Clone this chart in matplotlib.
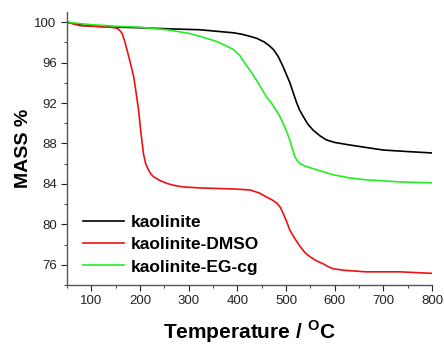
import matplotlib
matplotlib.use("Agg")
import matplotlib.pyplot as plt
from matplotlib.ticker import MultipleLocator

plt.rcParams['font.family'] = ['Liberation Sans', 'DejaVu Sans']
plt.rcParams['mathtext.fontset'] = 'custom'
plt.rcParams['mathtext.rm'] = 'Liberation Sans'
plt.rcParams['mathtext.bf'] = 'Liberation Sans:bold'

# TGA curves (temperature in C, mass in %)
kaol_t = [50, 80, 118, 160, 200, 255, 323, 392, 410, 426, 440, 455, 465, 474,
          484, 494, 501, 508, 515, 522, 528, 535, 545, 556, 570, 583, 600, 631,
          665, 700, 750, 800]
kaol_m = [100.0, 99.7, 99.57, 99.5, 99.45, 99.35, 99.25, 98.95, 98.8, 98.6, 98.4,
          98.05, 97.7, 97.3, 96.6, 95.6, 94.8, 94.0, 93.0, 92.0, 91.3, 90.7, 89.9,
          89.3, 88.75, 88.35, 88.1, 87.85, 87.6, 87.35, 87.2, 87.06]

dmso_t = [50, 77, 118, 140, 153, 158, 163, 168, 173, 180, 187, 192, 197, 202,
          207, 211, 216, 222, 228, 240, 255, 270, 289, 323, 392, 426, 445, 460,
          472, 481, 488, 494, 501, 508, 518, 529, 539, 549, 562, 576, 587, 597,
          620, 665, 734, 800]
dmso_m = [100.0, 99.65, 99.57, 99.5, 99.4, 99.2, 98.9, 98.2, 97.3, 96.0, 94.6,
          93.0, 91.3, 89.0, 87.0, 86.1, 85.5, 85.0, 84.7, 84.35, 84.05, 83.85,
          83.7, 83.6, 83.5, 83.4, 83.1, 82.7, 82.4, 82.1, 81.7, 81.1, 80.3, 79.4,
          78.6, 77.8, 77.2, 76.8, 76.4, 76.1, 75.8, 75.6, 75.45, 75.3, 75.3, 75.15]

eg_t = [50, 100, 150, 200, 255, 300, 323, 340, 357, 375, 392, 405, 416, 428,
        440, 450, 460, 470, 478, 486, 494, 501, 508, 513, 518, 523, 529, 540,
        563, 580, 597, 630, 665, 700, 734, 800]
eg_m = [100.0, 99.75, 99.6, 99.5, 99.25, 98.9, 98.6, 98.35, 98.1, 97.7, 97.3,
        96.7, 95.9, 95.1, 94.2, 93.4, 92.6, 92.0, 91.4, 90.8, 90.0, 89.2, 88.3,
        87.5, 86.7, 86.3, 86.0, 85.75, 85.4, 85.15, 84.9, 84.6, 84.4, 84.3, 84.2,
        84.1]

fig = plt.figure(figsize=(4.44, 3.45), dpi=100)
ax = fig.add_axes([0.151, 0.174, 0.822, 0.791])

ax.plot(kaol_t, kaol_m, color='black', lw=1.2, label='kaolinite')
ax.plot(dmso_t, dmso_m, color='#ee1111', lw=1.2, label='kaolinite-DMSO')
ax.plot(eg_t, eg_m, color='#22ee22', lw=1.2, label='kaolinite-EG-cg')

ax.set_xlim(50, 800)
ax.set_ylim(74, 101)
ax.xaxis.set_major_locator(MultipleLocator(100))
ax.xaxis.set_minor_locator(MultipleLocator(50))
ax.yaxis.set_major_locator(MultipleLocator(4))
ax.yaxis.set_minor_locator(MultipleLocator(2))
ax.tick_params(which='both', direction='out', labelsize=9.5, colors='#222222')
ax.tick_params(which='major', length=4)
ax.tick_params(which='minor', length=2.5)
for s in ['top', 'right']:
    ax.spines[s].set_visible(False)
for s in ['left', 'bottom']:
    ax.spines[s].set_color('#555555')
    ax.spines[s].set_linewidth(1.0)

ax.set_xlabel(r'Temperature / $^{\mathbf{O}}$C', fontsize=15, fontweight='bold', labelpad=8)
ax.set_ylabel('MASS %', fontsize=14, fontweight='bold', labelpad=2)

leg = ax.legend(loc='lower left', bbox_to_anchor=(0.0, -0.019), frameon=False,
                prop={'weight': 'bold', 'size': 12.5}, handlelength=2.4,
                handletextpad=0.35, labelspacing=0.4)

fig.savefig('out.png', dpi=100)
